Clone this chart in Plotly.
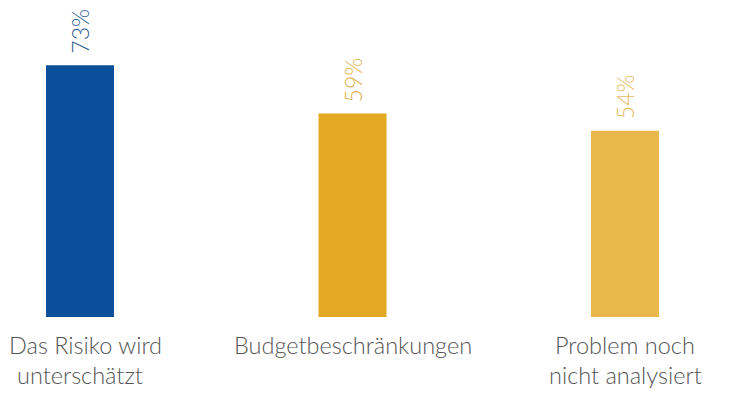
import plotly.graph_objects as go

categories = ["Das Risiko wird<br>unterschätzt", "Budgetbeschränkungen", "Problem noch<br>nicht analysiert"]
values = [73, 59, 54]
value_labels = ["73%", "59%", "54%"]
bar_colors = ["#0A4F9A", "#E3A922", "#E8B94A"]
label_colors = ["#2E5C92", "#E2B04C", "#E6BC5E"]

xs = list(range(len(categories)))

# page body has an 8px margin; figure is sized to fit the window
W, H = 722, 402
center0 = 72
spacing = 272.5
bottom = 309
px_per_pct = 3.45

fig = go.Figure()
fig.add_trace(go.Bar(x=xs, y=values, width=68 / spacing,
                     marker=dict(color=bar_colors, line=dict(width=0)),
                     hoverinfo="skip"))

for x, v, t, c in zip(xs, values, value_labels, label_colors):
    fig.add_annotation(x=x, y=v, text=t, textangle=-90, showarrow=False,
                       xanchor="center", yanchor="bottom", yshift=9,
                       font=dict(family="Lato", size=23, color=c, weight=300))

for x, t in zip(xs, categories):
    for i, line in enumerate(t.split("<br>")):
        # keep the widest left-most line inside the figure edge
        xshift = 5 if (x == 0 and i == 0) else 0
        fig.add_annotation(x=x, y=0, text=line, showarrow=False,
                           xanchor="center", yanchor="middle",
                           xshift=xshift, yshift=-(28 + 30 * i),
                           font=dict(family="Lato", size=23.5, color="#555555", weight=300))

fig.update_layout(
    width=W, height=H,
    margin=dict(l=0, r=0, t=0, b=H - bottom),
    paper_bgcolor="white", plot_bgcolor="white",
    showlegend=False,
    xaxis=dict(range=[-center0 / spacing, (W - center0) / spacing], visible=False, fixedrange=True),
    yaxis=dict(range=[0, bottom / px_per_pct], visible=False, fixedrange=True),
)
fig.write_html("out.html")
